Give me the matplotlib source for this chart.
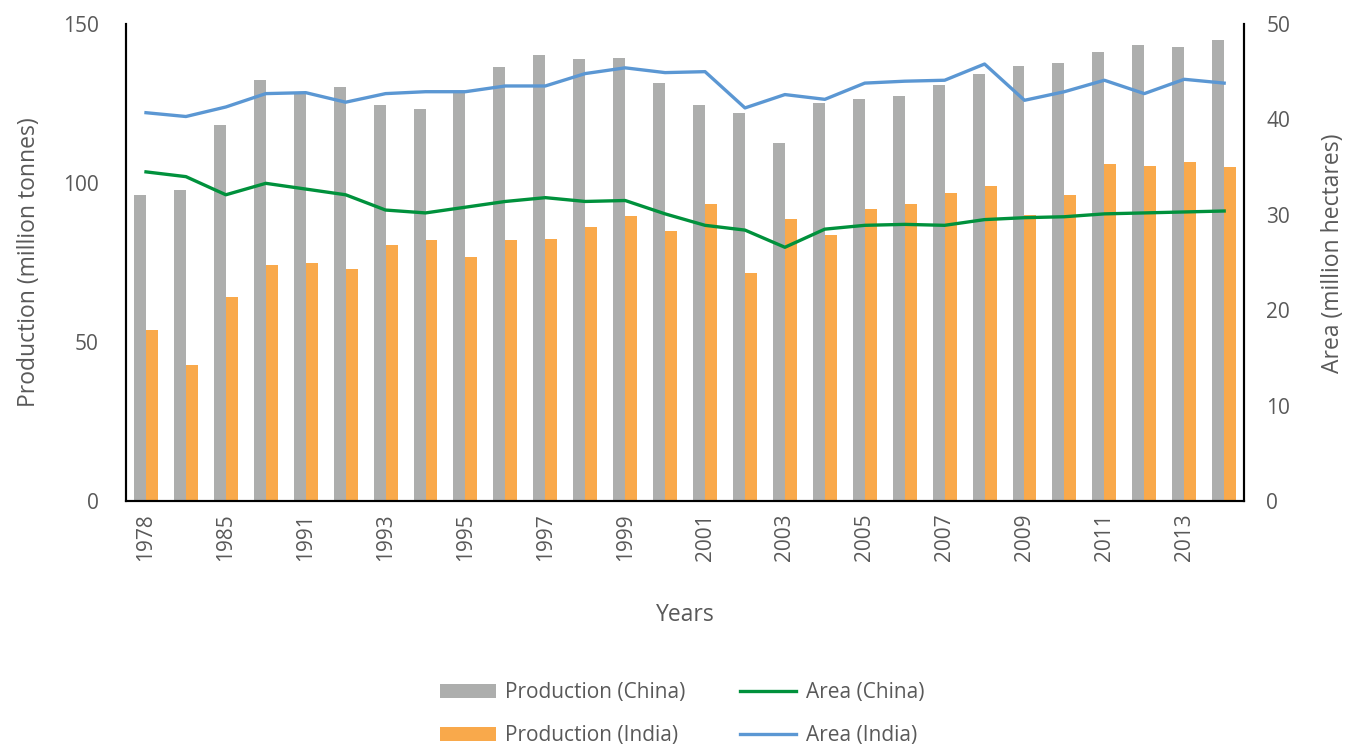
import matplotlib
matplotlib.use("Agg")
import matplotlib.pyplot as plt
import numpy as np

years = ["1978", "1980", "1985", "1990", "1991", "1992", "1993", "1994", "1995", "1996",
         "1997", "1998", "1999", "2000", "2001", "2002", "2003", "2004", "2005", "2006",
         "2007", "2008", "2009", "2010", "2011", "2012", "2013", "2014"]
prod_china = [96.2, 97.8, 118.2, 132.4, 128.0, 130.2, 124.5, 123.3, 128.4, 136.5,
              140.3, 139.0, 139.3, 131.4, 124.5, 122.0, 112.6, 125.2, 126.4, 127.4,
              130.8, 134.3, 136.8, 137.7, 141.2, 143.4, 142.8, 145.0]
prod_india = [53.8, 42.8, 64.2, 74.2, 74.8, 73.0, 80.5, 82.1, 76.7, 82.1,
              82.4, 86.2, 89.6, 84.9, 93.4, 71.7, 88.7, 83.6, 91.8, 93.4,
              96.9, 99.1, 89.9, 96.2, 106.0, 105.3, 106.6, 105.0]
area_china = [34.5, 34.0, 32.1, 33.3, 32.7, 32.1, 30.5, 30.2, 30.8, 31.4,
              31.8, 31.4, 31.5, 30.1, 28.9, 28.4, 26.6, 28.5, 28.9, 29.0,
              28.9, 29.5, 29.7, 29.8, 30.1, 30.2, 30.3, 30.4]
area_india = [40.7, 40.3, 41.3, 42.7, 42.8, 41.8, 42.7, 42.9, 42.9, 43.5,
              43.5, 44.8, 45.4, 44.9, 45.0, 41.2, 42.6, 42.1, 43.8, 44.0,
              44.1, 45.8, 42.0, 42.9, 44.1, 42.7, 44.2, 43.8]

plt.rcParams['font.family'] = ['Open Sans', 'DejaVu Sans']
txt = '#595959'
c_gray = '#ADAEAD'
c_orange = '#F9A94B'
c_green = '#00913C'
c_blue = '#5B97D3'

fig = plt.figure(figsize=(13.45, 7.48), dpi=100)
ax = fig.add_axes([0.0937, 0.330, 0.8313, 0.638])
ax2 = ax.twinx()

x = np.arange(len(years))
w = 0.3
b1 = ax.bar(x - w/2, prod_china, w, color=c_gray, label='Production (China)', zorder=2)
b2 = ax.bar(x + w/2, prod_india, w, color=c_orange, label='Production (India)', zorder=2)
l1, = ax2.plot(x, area_china, color=c_green, lw=2.4, label='Area (China)', solid_joinstyle='round')
l2, = ax2.plot(x, area_india, color=c_blue, lw=2.4, label='Area (India)', solid_joinstyle='round')

ax.set_xlim(-0.5, len(years) - 0.5)
ax.set_ylim(0, 150)
ax2.set_ylim(0, 50)
ax.set_yticks([0, 50, 100, 150])
ax2.set_yticks([0, 10, 20, 30, 40, 50])
ax.set_xticks(x[::2])
ax.set_xticklabels(years[::2], rotation=90)

for a in (ax, ax2):
    a.tick_params(length=0, labelsize=15, labelcolor=txt)
    a.spines['top'].set_visible(False)
    for s in ('left', 'right', 'bottom'):
        a.spines[s].set_color('black')
        a.spines[s].set_linewidth(1.5)
ax.tick_params(axis='y', pad=19.5)
ax2.tick_params(axis='y', pad=16)
ax.tick_params(axis='x', pad=9)

ax.set_ylabel('Production (million tonnes)', fontsize=16.5, color=txt, labelpad=16)
ax2.set_ylabel('Area (million hectares)', fontsize=16.5, color=txt)
ax2.yaxis.set_label_coords(1.069, 0.52)
ax.set_xlabel('Years', fontsize=16.5, color=txt, labelpad=30)

fig.legend(handles=[b1, b2, l1, l2], ncol=2, loc='center', bbox_to_anchor=(0.507, 0.045),
           frameon=False, fontsize=15, labelcolor=txt, handlelength=2.7,
           handleheight=0.6, columnspacing=2.6, labelspacing=1.05, handletextpad=0.45)

fig.savefig('out.png', dpi=100)
